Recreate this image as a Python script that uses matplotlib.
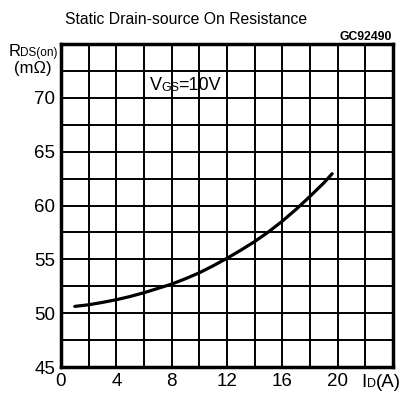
import numpy as np
import matplotlib
matplotlib.use('Agg')
import matplotlib.pyplot as plt

plt.rcParams['font.family'] = ['Liberation Sans', 'DejaVu Sans']

# curve
current = [1.0, 2, 3, 4, 5, 6, 7, 8, 9, 10, 11, 12, 13, 14, 15, 16, 17, 18, 19, 19.6]
rds_on = [50.63, 50.78, 51.0, 51.25, 51.55, 51.9, 52.3, 52.7, 53.2, 53.75,
          54.4, 55.1, 55.85, 56.65, 57.55, 58.55, 59.65, 60.85, 62.1, 62.95]

x_ticks = [0, 4, 8, 12, 16, 20]
y_ticks = [45, 50, 55, 60, 65, 70]

fig = plt.figure(figsize=(4.16, 3.93), dpi=100)
ax = fig.add_axes([61/416, 1-367/393, (393-61)/416, (367-44)/393])

ax.set_xlim(0, 24)
ax.set_ylim(45, 75)
ax.set_xticks(np.arange(0, 25, 2))
ax.set_yticks(np.arange(45, 75.1, 2.5))
ax.set_xticklabels([str(v) if v in x_ticks else '' for v in np.arange(0, 25, 2)], fontsize=13.5)
ax.set_yticklabels([str(int(v)) if v in y_ticks else '' for v in np.arange(45, 75.1, 2.5)], fontsize=13.5)
ax.tick_params(length=0, pad=4)
ax.grid(True, color='black', linewidth=1.4)
ax.set_axisbelow(True)
for s in ax.spines.values():
    s.set_linewidth(2.5)

ax.plot(current, rds_on, color='black', linewidth=2.3, solid_joinstyle='round', solid_capstyle='round')

ax.text(6.4, 71.1, 'V', fontsize=13, va='center', ha='left')
ax.text(7.25, 70.95, 'GS', fontsize=9, va='center', ha='left')
ax.text(8.5, 71.1, '=10V', fontsize=13, va='center', ha='left')

ax.text(-3.75, 73.9, 'R', fontsize=12, va='baseline', ha='left', clip_on=False)
ax.text(-2.95, 73.9, 'DS(on)', fontsize=8.5, va='baseline', ha='left', clip_on=False)
ax.text(-2.05, 72.3, '(m\u03a9)', fontsize=12, va='baseline', ha='center', clip_on=False)

ax.text(21.7, 43.1, 'I', fontsize=13.5, va='baseline', ha='left', clip_on=False)
ax.text(22.15, 43.1, 'D', fontsize=9, va='baseline', ha='left', clip_on=False)
ax.text(22.75, 43.1, '(A)', fontsize=13.5, va='baseline', ha='left', clip_on=False)

fig.text(65/416, 1-20/393, 'Static Drain-source On Resistance', fontsize=11.3, va='center', ha='left')
fig.text(392/416, 1-37/393, 'GC92490', fontsize=8.8, fontweight='bold', va='center', ha='right')

plt.savefig('out.png', dpi=100)
